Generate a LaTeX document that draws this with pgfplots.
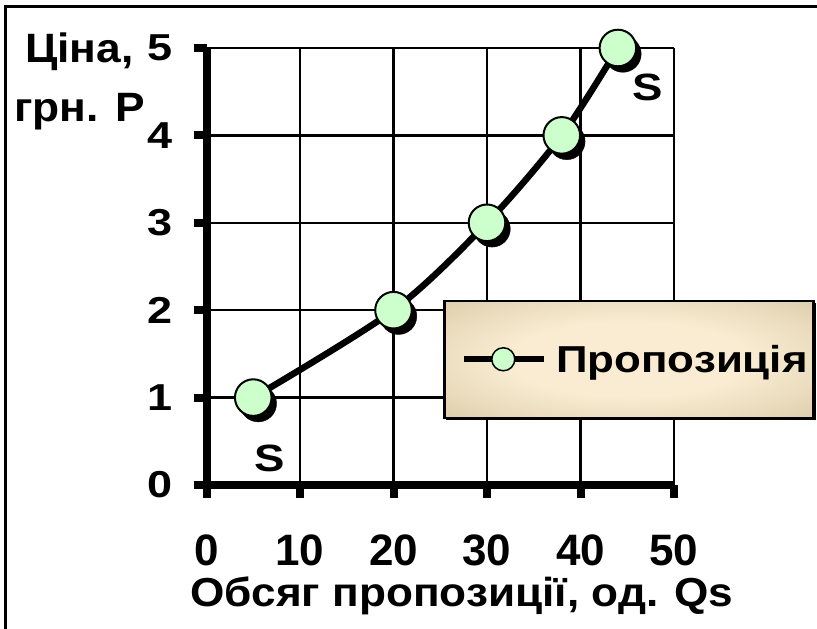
\documentclass[border=0pt]{standalone}
\usepackage{fontspec}
\setmainfont{Liberation Sans}
\usepackage{pgfplots}
\pgfplotsset{compat=1.18}
\usetikzlibrary{shadows}
\definecolor{mkgreen}{RGB}{204,255,204}
\definecolor{lcream}{RGB}{250,236,210}
\definecolor{ltan}{RGB}{206,192,152}
\pgfdeclareradialshading{legshade}{\pgfpoint{0bp}{0bp}}{color(0bp)=(lcream); color(16bp)=(lcream); color(46bp)=(ltan); color(75bp)=(ltan)}
\newcommand\fy{\fontsize{37.5bp}{40bp}\selectfont\bfseries}
\newcommand\fx{\fontsize{44bp}{46bp}\selectfont\bfseries}
\newcommand\fxl{\fontsize{40.5bp}{43bp}\selectfont\bfseries}
\newcommand\ft{\fontsize{41bp}{44bp}\selectfont\bfseries}
\newcommand\fl{\fontsize{37.5bp}{40bp}\selectfont\bfseries}
\newcommand\fs{\fontsize{38bp}{40bp}\selectfont\bfseries}
\newcommand\sy[1]{\scalebox{1.2}[1]{#1}}
\pgfplotstableread{
x y
5 1
20 2
30 3
38 4
44 5
}\supply
\begin{document}
\begin{tikzpicture}
\begin{axis}[
  at={(206.5bp,144bp)}, anchor=south west,
  scale only axis, width=467.5bp, height=437bp,
  xmin=0, xmax=50, ymin=0, ymax=5,
  xtick={0,10,20,30,40,50}, ytick={0,1,2,3,4,5},
  xticklabels={0,10,20,30,40,50},
  yticklabels={\sy{0},\sy{1},\sy{2},\sy{3},\sy{4},\sy{5}},
  axis x line*=bottom, axis y line*=left,
  axis line style={-, line width=8bp, black},
  tick align=outside, major tick length=13bp,
  tick style={line width=8bp, black},
  grid=major, major grid style={line width=2.5bp, black},
  xticklabel style={font=\fx, yshift=-33bp},
  yticklabel style={font=\fy, xshift=-17bp},
  xlabel={\scalebox{1.09}[1]{Обсяг пропозиції, од. Qs}},
  xlabel style={at={(axis description cs:0.5465,-0.277)}, anchor=base, inner sep=0pt, font=\fxl},
  legend style={at={(axis description cs:0.506,0.151)}, anchor=south west,
    draw=black, line width=2.5bp, shading=legshade, shade,
    drop shadow={shadow xshift=2bp, shadow yshift=-2bp, fill=black, opacity=1},
    inner xsep=6bp, inner ysep=0bp, nodes={inner sep=0pt}, column sep=0bp, font=\fl},
  legend image code/.code={
    \pgfpathrectangle{\pgfpoint{-14bp}{-58.5bp}}{\pgfpoint{106bp}{117bp}}
    \pgfusepath{use as bounding box}
    \pgfsetcolor{black}
    \pgfsetlinewidth{6bp}
    \pgfpathmoveto{\pgfpoint{0bp}{0bp}}\pgfpathlineto{\pgfpoint{80bp}{0bp}}
    \pgfusepath{stroke}
    \pgfsetlinewidth{1.5bp}
    \pgfsetfillcolor{mkgreen}
    \pgfpathcircle{\pgfpoint{39bp}{0bp}}{11.5bp}
    \pgfusepath{fill,stroke}
  },
  clip=false,
]
\addplot[only marks, mark=*, mark size=18.3bp, forget plot,
  mark options={fill=black, draw=black, xshift=5bp, yshift=-6bp}] table[x=x,y=y] {\supply};
\addplot[smooth, line width=6.5bp, black, mark=*, mark size=18.3bp,
  mark options={fill=mkgreen, draw=black, line width=2bp}] table[x=x,y=y] {\supply};
\addlegendentry{\scalebox{1.17}[1]{Пропозиція}}
\node[font=\fs] at (axis cs:6.8,0.30) {\sy{S}};
\node[font=\fs] at (axis cs:47.2,4.55) {\sy{S}};
\end{axis}
\node[anchor=base west, inner sep=0pt, font=\ft] at (25bp,566bp) {\scalebox{1.08}[1]{Ціна,}};
\node[anchor=base west, inner sep=0pt, font=\ft] at (14bp,507bp) {\scalebox{1.08}[1]{грн. P}};
\draw[line width=2.5bp, black] (5.5bp,-5bp) -- (5.5bp,622.5bp) -- (817bp,622.5bp);
\pgfresetboundingbox
\path[use as bounding box] (0bp,0bp) rectangle (817bp,629bp);
\end{tikzpicture}
\end{document}
